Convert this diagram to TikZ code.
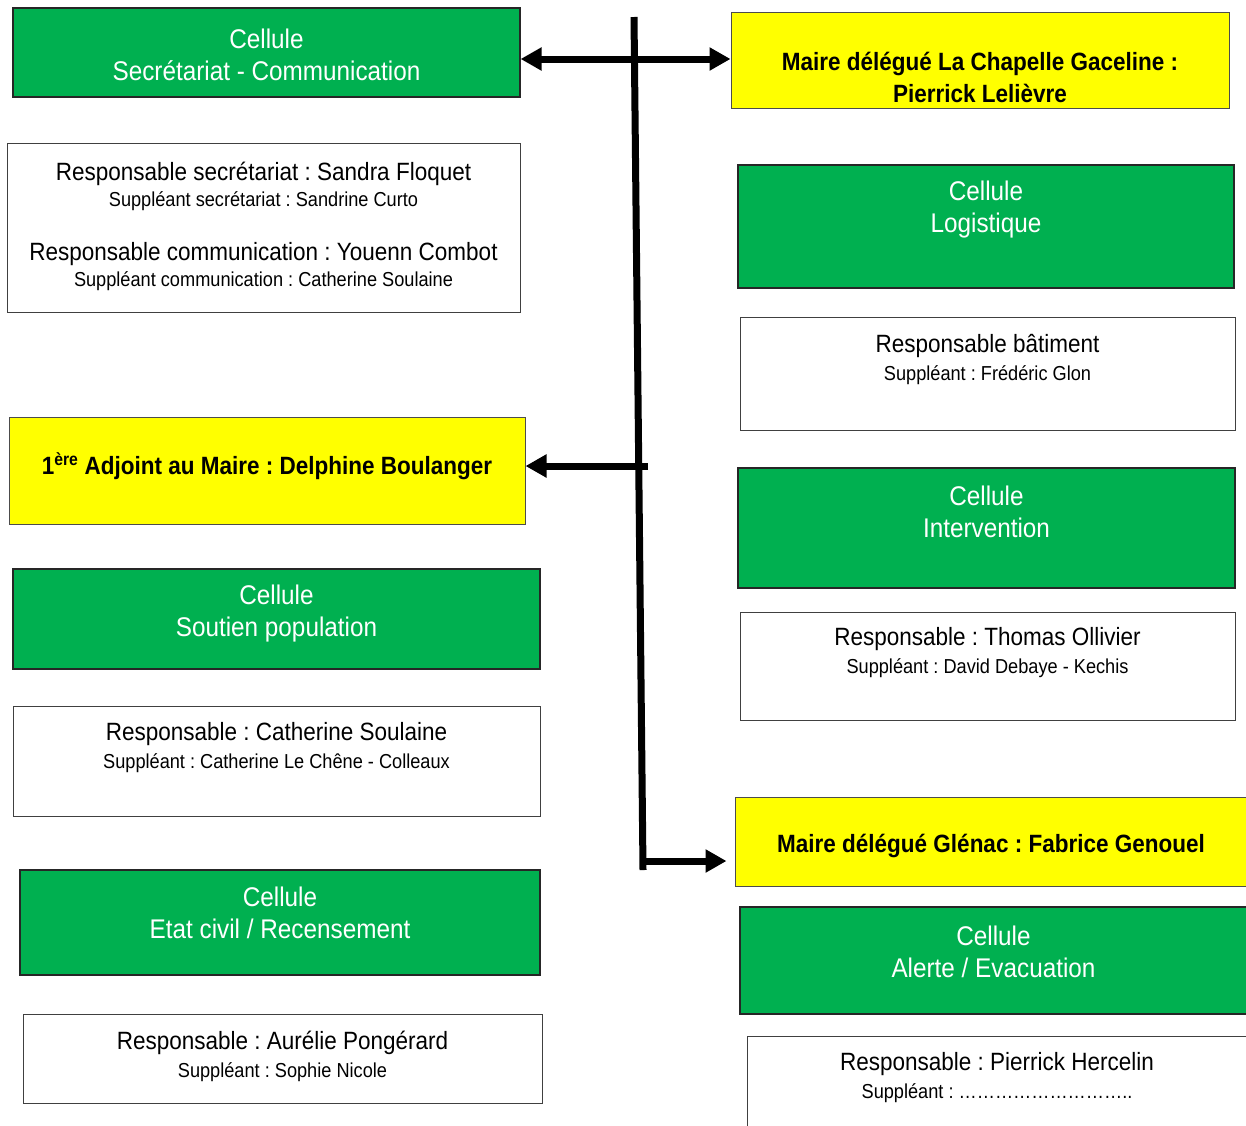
\documentclass[tikz,border=0pt]{standalone}
\usepackage{fontspec}
\setmainfont[FakeStretch=0.9]{Liberation Sans}
\usetikzlibrary{arrows.meta,positioning,fit}
\definecolor{cgreen}{HTML}{00B050}
\definecolor{cyellow}{HTML}{FFFF00}
\frenchspacing
\tikzset{
  greenbox/.style={draw=black!85,line width=1.2pt,fill=cgreen,inner sep=0pt},
  yellowbox/.style={draw=black!70,line width=1pt,fill=cyellow,inner sep=0pt},
  whitebox/.style={draw=black!75,line width=1pt,fill=white,inner sep=0pt},
  celltext/.style={text=white,align=center,font=\fontsize{27}{32}\selectfont},
  chieftext/.style={align=center,font=\fontsize{25}{32}\selectfont\bfseries},
  resptext/.style={align=center,font=\fontsize{25}{28}\selectfont},
  trunk/.style={line width=7pt},
  arrow/.style={line width=7pt,-{Triangle[length=21pt,width=22pt]}}
}
\newcommand{\sml}{\fontsize{20.2}{28}\selectfont}
\begin{document}
\begin{tikzpicture}[x=1pt,y=-1pt]
    \useasboundingbox (0,0) rectangle (1246,1125);
    % First we draw the boxes
    \foreach \name/\sty/\xa/\ya/\xb/\yb in {
        secr/greenbox/13/8/520/97, secrw/whitebox/7/143/520/312,
        adjoint/yellowbox/9/417/525/524,
        soutien/greenbox/13/569/540/669, soutienw/whitebox/13/706/540/816,
        etat/greenbox/20/870/540/975, etatw/whitebox/23/1014/542/1103,
        maire/yellowbox/731/12/1229/108,
        logi/greenbox/738/165/1234/288, logiw/whitebox/740/317/1235/430,
        interv/greenbox/738/468/1235/588, intervw/whitebox/740/612/1235/720,
        glenac/yellowbox/735/797/1247/886,
        alerte/greenbox/740/907/1247/1014, alertew/whitebox/747/1036/1247/1140}
        \node[\sty,fit={(\xa,\ya) (\xb,\yb)}] (\name) {};
    % Then the texts
    \node[celltext] (secrtxt) at (secr.center |- 0,54.5) {Cellule\\Secrétariat - Communication};
    \node[resptext] (secrwtxt) at (secrw.center |- 0,226.5)
        {Responsable secrétariat : Sandra Floquet\\[-2pt]{\sml Suppléant secrétariat : Sandrine Curto}\\[26pt]
         Responsable communication : Youenn Combot\\[-2pt]{\sml Suppléant communication : Catherine Soulaine}};
    \node[chieftext] (adjointtxt) at (adjoint.center |- 0,466) {1\textsuperscript{ère} Adjoint au Maire : Delphine Boulanger};
    \node[celltext] (soutientxt) at (soutien.center |- 0,614) {Cellule\\Soutien population};
    \node[resptext] (soutienwtxt) at (soutienw.center |- 0,747.5) {Responsable : Catherine Soulaine\\{\sml Suppléant : Catherine Le Chêne - Colleaux}};
    \node[celltext] (etattxt) at (etat.center |- 0,913) {Cellule\\Etat civil / Recensement};
    \node[resptext] (etatwtxt) at (etatw.center |- 0,1056) {Responsable : Aurélie Pongérard\\{\sml Suppléant : Sophie Nicole}};
    \node[chieftext] (mairetxt) at (maire.center |- 0,77) {Maire délégué La Chapelle Gaceline :\\Pierrick Lelièvre};
    \node[celltext] (logitxt) at (logi.center |- 0,210) {Cellule\\Logistique};
    \node[resptext] (logiwtxt) at (logiw.center |- 0,359) {Responsable bâtiment\\{\sml Suppléant : Frédéric Glon}};
    \node[celltext] (intervtxt) at (interv.center |- 0,512) {Cellule\\Intervention};
    \node[resptext] (intervwtxt) at (intervw.center |- 0,653) {Responsable : Thomas Ollivier\\{\sml Suppléant : David Debaye - Kechis}};
    \node[chieftext] (glenactxt) at (glenac.center |- 0,846) {Maire délégué Glénac : Fabrice Genouel};
    \node[celltext] (alertetxt) at (alerte.center |- 0,951.5) {Cellule\\Alerte / Evacuation};
    \node[resptext] (alertewtxt) at (alertew.center |- 0,1078) {Responsable : Pierrick Hercelin\\{\sml Suppléant : \dots\dots\dots\dots\dots\dots\dots\dots\dots..}};
    % Connect the trunk with the boxes
    \coordinate (top) at (634,17);
    \coordinate (bottom) at (643,870);
    \coordinate (jA) at (640,59);
    \coordinate (jB) at (648,466);
    \coordinate (jC) at (640,861);
    \draw[trunk] (top) -- (bottom);
    \draw[arrow] (jA) -- (jA -| secr.east);
    \draw[arrow] (jA) -- (jA -| maire.west);
    \draw[arrow] (jB) -- (jB -| adjoint.east);
    \draw[arrow,shorten >=8pt] (jC) -- (jC -| glenac.west);
\end{tikzpicture}
\end{document}
